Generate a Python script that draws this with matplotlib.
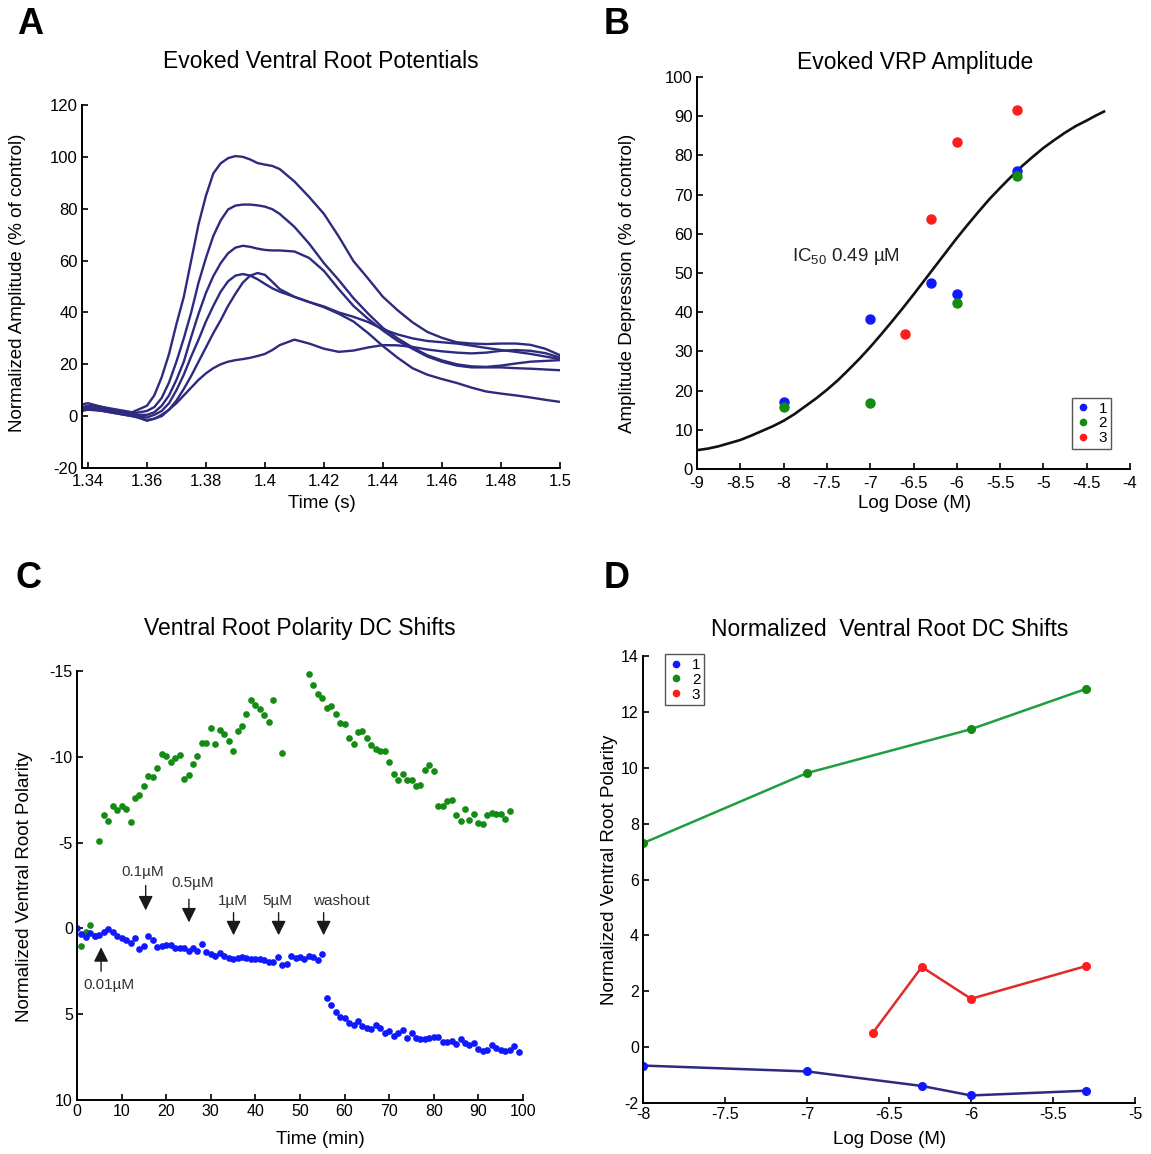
import matplotlib.pyplot as plt
from matplotlib.lines import Line2D
from matplotlib.ticker import FormatStrFormatter, MultipleLocator

plt.rcParams['font.family'] = ['Liberation Sans', 'DejaVu Sans']

W, H = 1151, 1154

# ---------- A: evoked ventral root potentials (% of control)
time_s = [1.338, 1.34, 1.345, 1.35, 1.355,
          1.36, 1.3625, 1.365, 1.3675, 1.37, 1.3725, 1.375, 1.3775, 1.38, 1.3825,
          1.385, 1.3875, 1.39, 1.3925, 1.395, 1.3975, 1.40, 1.4025, 1.405,
          1.41, 1.415, 1.42, 1.425, 1.43, 1.435, 1.44, 1.445, 1.45, 1.455, 1.46,
          1.465, 1.47, 1.475, 1.48, 1.485, 1.49, 1.495, 1.50]
trace_100 = [3.5, 4, 3.5, 2.5, 1.5,
             4, 8, 15, 24, 35.5, 46, 60, 74, 85, 93.6, 97.5, 99.5, 100.3, 100, 99,
             97.6, 97, 96.5, 95.3,
             90.5, 84.5, 78, 69.3, 59.8, 53, 46, 40.8, 36.2, 32.5, 30.2, 28.5, 28,
             27.8, 28, 28, 27.5, 26, 23.5]
trace_81 = [3, 3.5, 3, 2, 1,
            2, 3.5, 7, 13, 21, 30, 40, 51.5, 61, 69.5, 75.5, 79.7, 81.2, 81.6, 81.6,
            81.3, 80.8, 79.8, 78,
            73, 66.5, 59, 52.5, 45.5, 39.5, 34, 30, 26.5, 23.5, 21.5, 20, 19.2, 19,
            19.5, 20.3, 21, 21.3, 21.6]
trace_66 = [2.5, 3, 2.5, 1.5, 0.5,
            0.5, 1.5, 4, 8, 14, 21, 30.5, 39.5, 47.5, 54, 59, 62.8, 65, 65.7, 65.3,
            64.6, 64.1, 63.9, 63.9,
            63.5, 61, 56, 49, 42.5, 37.5, 33, 29, 26, 23, 21, 19.5, 18.8, 18.8, 18.8,
            18.5, 18.3, 18, 17.7]
trace_55a = [2, 2.5, 2, 1, 0,
             -0.5, 0.5, 2, 5, 10, 16, 23, 29.5, 36.5, 42.5, 48, 52, 54.2, 54.8, 54.2,
             52.8, 51, 49.3, 48,
             46, 44, 42.3, 40, 38.3, 36.3, 33.5, 31.5, 30, 29, 28.5, 28, 27.2, 26.3,
             25.5, 24.8, 24, 23, 22]
trace_55b = [3, 3, 2, 1, 0,
             -1.5, -1, 0, 2.5, 6, 10.5, 15.5, 21, 26.5, 32, 37, 42.5, 47.2, 51.5, 54.2,
             55.2, 54.5, 51.8, 49,
             46, 44, 42, 39.5, 36.5, 32, 27, 22.5, 18.5, 16, 14.3, 12.8, 11, 9.5, 8.7,
             8, 7.2, 6.3, 5.5]
trace_30 = [4.5, 5, 3.5, 2, 0.5,
            -1.8, -1, 0.5, 2.5, 5, 8, 11, 14, 16.5, 18.5, 20, 21, 21.6, 22, 22.5,
            23.2, 24, 25.5, 27.4,
            29.5, 28, 26, 24.8, 25.3, 26.5, 27.4, 27.3, 26.7, 25.7, 25, 24.5, 24.2,
            24.5, 25.2, 25.5, 25.2, 24.3, 22.6]

# ---------- B: evoked VRP amplitude depression
dose_b1 = [-8, -7, -6.3, -6, -5.3]
depr_b1 = [17.2, 38.2, 47.5, 44.6, 76.0]
dose_b2 = [-8, -7, -6, -5.3]
depr_b2 = [15.7, 16.8, 42.4, 74.8]
dose_b3 = [-6.6, -6.3, -6, -5.3]
depr_b3 = [34.5, 63.8, 83.4, 91.7]
fit_dose = [-9, -8.875, -8.75, -8.625, -8.5, -8.375, -8.25, -8.125, -8, -7.875, -7.75,
            -7.625, -7.5, -7.375, -7.25, -7.125, -7, -6.875, -6.75, -6.625, -6.5,
            -6.375, -6.25, -6.125, -6, -5.875, -5.75, -5.625, -5.5, -5.375, -5.25,
            -5.125, -5, -4.875, -4.75, -4.625, -4.5, -4.4, -4.3]
fit_depr = [4.8, 5.2, 5.8, 6.6, 7.4, 8.5, 9.7, 10.9, 12.3, 14.0, 16.0, 18.0, 20.2, 22.6,
            25.3, 28.1, 31.1, 34.3, 37.6, 41.0, 44.5, 48.1, 51.7, 55.3, 58.9, 62.3, 65.6,
            68.8, 71.7, 74.5, 77.2, 79.6, 81.9, 83.9, 85.8, 87.5, 88.9, 90.1, 91.2]

# ---------- C: ventral root polarity DC shifts over time
blue_min = list(range(0, 100))
blue_pol = [0, 0.35, 0.48, 0.29, 0.42, 0.39, 0.23, 0.06, 0.19, 0.42, 0.54, 0.67, 0.83,
            0.58, 1.21, 1.0, 0.42, 0.67, 1.06, 1.04, 0.98, 0.98, 1.12, 1.15, 1.12, 1.29,
            1.15, 1.29, 0.92, 1.39, 1.5, 1.58, 1.45, 1.6, 1.7, 1.77, 1.7, 1.64, 1.73, 1.79,
            1.79, 1.79, 1.83, 1.97, 1.93, 1.66, 2.16, 2.08, 1.58, 1.73, 1.64, 1.79, 1.58,
            1.64, 1.83, 1.5,
            4.08, 4.49, 4.87, 5.16, 5.2, 5.49, 5.61, 5.4, 5.68, 5.78, 5.84, 5.65, 5.78,
            6.07, 5.97, 6.26, 6.11, 5.94, 6.4, 6.11, 6.36, 6.42, 6.42, 6.36, 6.3, 6.3,
            6.61, 6.61, 6.55, 6.74, 6.42, 6.65, 6.8, 6.69, 7.03, 7.17, 7.09, 6.78, 6.97,
            7.07, 7.17, 7.09, 6.88, 7.23]
green_min = list(range(1, 45)) + [46] + list(range(52, 98))
green_pol = [1.02, 0.19, -0.19, 0.44,
             -5.07, -6.6, -6.28, -7.13, -6.88, -7.13, -6.98, -6.22, -7.61, -7.76,
             -8.32, -8.9, -8.82, -9.35, -10.17, -10.06, -9.69, -9.92, -10.12, -8.73,
             -8.94, -9.6, -10.02, -10.83, -10.83, -11.66, -10.73, -11.56, -11.31, -10.94,
             -10.35, -11.5, -11.81, -12.52, -13.29, -13.0, -12.77, -12.43, -12.04, -13.29,
             -10.21,
             -14.84, -14.16, -13.64, -13.43, -12.87, -12.95, -12.52, -11.95, -11.91,
             -11.08, -10.77, -11.46, -11.52, -11.08, -10.67, -10.44, -10.35, -10.35,
             -9.71, -9.0, -8.67, -9.0, -8.67, -8.67, -8.29, -8.38, -9.21, -9.54, -9.15,
             -7.13, -7.13, -7.42, -7.51, -6.63, -6.26, -6.98, -6.32, -6.69, -6.17, -6.11,
             -6.59, -6.74, -6.65, -6.69, -6.36, -6.84]
dose_labels = ['0.01\u00b5M', '0.1\u00b5M', '0.5\u00b5M', '1\u00b5M', '5\u00b5M', 'washout']
arrow_min = [5.4, 15.4, 25.1, 35.1, 45.2, 55.3]
arrow_tail = [2.5, -2.5, -1.7, -0.92, -0.92, -0.92]
arrow_tip = [1.1, -1.05, -0.35, 0.4, 0.4, 0.4]
label_xy = [(7.2, 3.3), (14.8, -3.3), (26.0, -2.66), (34.9, -1.6), (45.0, -1.6), (59.3, -1.6)]

# ---------- D: normalized DC shifts vs dose
dose_d1 = [-8, -7, -6.3, -6, -5.3]
shift_d1 = [-0.66, -0.87, -1.39, -1.73, -1.56]
dose_d2 = [-8, -7, -6, -5.3]
shift_d2 = [7.3, 9.81, 11.38, 12.82]
dose_d3 = [-6.6, -6.3, -6, -5.3]
shift_d3 = [0.5, 2.87, 1.73, 2.9]

BLUE, GREEN, RED = '#0f18ff', '#148c14', '#ff1c1c'
NAVY = '#2d2a80'


def px_axes(fig, left, top, right, bottom):
    return fig.add_axes([left / W, 1 - bottom / H, (right - left) / W, (bottom - top) / H])


def put(fig, x, y, s, **kw):
    fig.text(x / W, 1 - y / H, s, ha='center', va='center', **kw)


def style(ax, size, xpad=3):
    for side in ['top', 'right']:
        ax.spines[side].set_visible(False)
    for side in ['left', 'bottom']:
        ax.spines[side].set_linewidth(1.4)
    ax.tick_params(direction='in', length=4, width=1.2, labelsize=size, pad=3)
    ax.tick_params(axis='x', pad=xpad)
    ax.xaxis.set_major_formatter(FormatStrFormatter('%g'))
    ax.yaxis.set_major_formatter(FormatStrFormatter('%g'))


def small_legend(ax, **kw):
    handles = [Line2D([], [], ls='none', marker='o', ms=4.5, color=c) for c in (BLUE, GREEN, RED)]
    leg = ax.legend(handles, ['1', '2', '3'], fontsize=11, fancybox=False, framealpha=1,
                    edgecolor='#555555', handlelength=0.9, handletextpad=0.6, borderpad=0.25,
                    labelspacing=0.05, borderaxespad=0, **kw)
    leg.get_frame().set_linewidth(1.0)


fig = plt.figure(figsize=(W / 100, H / 100), dpi=100)

# A
axA = px_axes(fig, 82, 105, 560, 468)
for tr in [trace_100, trace_81, trace_66, trace_55a, trace_55b, trace_30]:
    axA.plot(time_s, tr, color=NAVY, lw=1.7, solid_joinstyle='round')
axA.set_xlim(1.338, 1.5)
axA.set_ylim(-20, 120)
axA.xaxis.set_major_locator(MultipleLocator(0.02))
axA.yaxis.set_major_locator(MultipleLocator(20))
style(axA, 12, xpad=4)
put(fig, 30, 25, 'A', fontsize=26, fontweight='bold')
put(fig, 321, 62, 'Evoked Ventral Root Potentials', fontsize=16.5)
put(fig, 18, 283, 'Normalized Amplitude (% of control)', fontsize=13.5, rotation=90)
put(fig, 322, 503, 'Time (s)', fontsize=13.5)

# B
axB = px_axes(fig, 697, 77, 1130, 469)
axB.plot(fit_dose, fit_depr, color='#111111', lw=1.9, solid_joinstyle='round')
axB.plot(dose_b1, depr_b1, 'o', color=BLUE, ms=6.5)
axB.plot(dose_b2, depr_b2, 'o', color=GREEN, ms=6.5)
axB.plot(dose_b3, depr_b3, 'o', color=RED, ms=6.5)
axB.text(-7.9, 54.3, 'IC$_{\\mathregular{50}}$ 0.49 \u00b5M', fontsize=13.5, va='center', color='#222222')
axB.set_xlim(-9, -4)
axB.set_ylim(0, 100)
axB.xaxis.set_major_locator(MultipleLocator(0.5))
axB.yaxis.set_major_locator(MultipleLocator(10))
style(axB, 12, xpad=5)
small_legend(axB, loc='lower right', bbox_to_anchor=(0.956, 0.051))
put(fig, 617, 25, 'B', fontsize=26, fontweight='bold')
put(fig, 915, 62, 'Evoked VRP Amplitude', fontsize=16.5)
put(fig, 627, 283, 'Amplitude Depression (% of control)', fontsize=13.5, rotation=90)
put(fig, 915, 503, 'Log Dose (M)', fontsize=13.5)

# C
axC = px_axes(fig, 77, 671, 523, 1100)
axC.plot(green_min, green_pol, 'o', color=GREEN, ms=3.8, ls='none')
axC.plot(blue_min, blue_pol, 'o', color=BLUE, ms=3.8, ls='none')
for t, tail, tip in zip(arrow_min, arrow_tail, arrow_tip):
    axC.annotate('', xy=(t, tip), xytext=(t, tail),
                 arrowprops=dict(arrowstyle='-|>', color='#1a1a1a', lw=1.0,
                                 mutation_scale=22, shrinkA=0, shrinkB=0))
for s, (lx, ly) in zip(dose_labels, label_xy):
    axC.text(lx, ly, s, fontsize=11, ha='center', va='center', color='#333333')
axC.set_xlim(0, 100)
axC.set_ylim(10, -15)
axC.xaxis.set_major_locator(MultipleLocator(10))
axC.yaxis.set_major_locator(MultipleLocator(5))
style(axC, 11.5)
put(fig, 28, 578, 'C', fontsize=26, fontweight='bold')
put(fig, 300, 629, 'Ventral Root Polarity DC Shifts', fontsize=16.5)
put(fig, 25, 887, 'Normalized Ventral Root Polarity', fontsize=13.5, rotation=90)
put(fig, 320, 1140, 'Time (min)', fontsize=13.5)

# D
axD = px_axes(fig, 643, 656, 1135, 1103)
axD.plot(dose_d2, shift_d2, '-', color='#1f9e40', lw=1.8)
axD.plot(dose_d3, shift_d3, '-', color='#e02a2a', lw=1.8)
axD.plot(dose_d1, shift_d1, '-', color=NAVY, lw=1.8)
axD.plot(dose_d2, shift_d2, 'o', color=GREEN, ms=5.5)
axD.plot(dose_d3, shift_d3, 'o', color=RED, ms=5.5)
axD.plot(dose_d1, shift_d1, 'o', color=BLUE, ms=5.5)
axD.set_xlim(-8, -5)
axD.set_ylim(-2, 14)
axD.xaxis.set_major_locator(MultipleLocator(0.5))
axD.yaxis.set_major_locator(MultipleLocator(2))
style(axD, 11.5)
small_legend(axD, loc='upper left', bbox_to_anchor=(0.045, 1.004))
put(fig, 617, 578, 'D', fontsize=26, fontweight='bold')
put(fig, 890, 629, 'Normalized  Ventral Root DC Shifts', fontsize=16.5)
put(fig, 609, 870, 'Normalized Ventral Root Polarity', fontsize=13.5, rotation=90)
put(fig, 890, 1140, 'Log Dose (M)', fontsize=13.5)

fig.savefig('out.png', dpi=100)
